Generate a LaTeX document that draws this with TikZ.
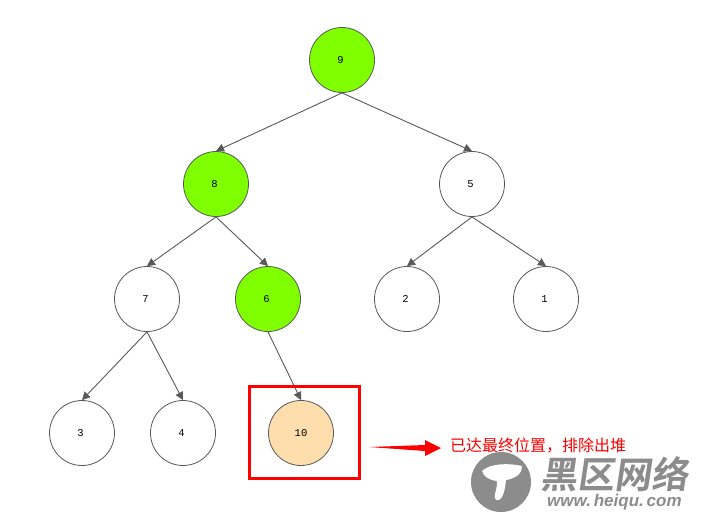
\documentclass[tikz,border=0pt]{standalone}
\usepackage{fontspec}
\setmonofont{Liberation Mono}
\newfontfamily\cjk{Noto Sans CJK SC}
\newfontfamily\cjkbold{Noto Sans CJK SC Bold}
\newfontfamily\wmfont{Liberation Sans}
\usetikzlibrary{arrows.meta}
\definecolor{heapgreen}{HTML}{7FFF00}
\definecolor{heapdone}{HTML}{FFDEAD}
\definecolor{edgegray}{HTML}{595959}
\definecolor{markgray}{HTML}{8C8C8C}
\begin{document}
\begin{tikzpicture}[
    x=1pt, y=-1pt,
    vtx/.style = {draw=edgegray, line width=0.8pt, circle, fill=white, minimum size=65pt, inner sep=0pt,
                  font=\ttfamily\fontsize{10.5}{10.5}\selectfont},
    heaped/.style = {vtx, fill=heapgreen},
    fixedvtx/.style = {vtx, fill=heapdone},
    edge/.style = {draw=edgegray, line width=0.9pt, -{Triangle[length=8pt,width=8pt]}},
  ]
  \useasboundingbox (0,0) rectangle (703,517);
  \node[heaped] (9) at (342,60) {\hspace*{-3pt}9};
  \node[heaped] (8) at (216,184) {\hspace*{-3pt}8};
  \node[vtx] (5) at (472,184) {\hspace*{-3pt}5};
  \node[vtx] (7) at (147,299) {\hspace*{-3pt}7};
  \node[heaped] (6) at (268,299) {\hspace*{-3pt}6};
  \node[vtx] (2) at (407,299) {\hspace*{-3pt}2};
  \node[vtx] (1) at (546,299) {\hspace*{-3pt}1};
  \node[vtx] (3) at (82,433) {\hspace*{-3pt}3};
  \node[vtx] (4) at (183,433) {\hspace*{-3pt}4};
  \node[fixedvtx] (10) at (301,433) {10};
  \foreach \from/\to in {9/8,9/5,8/7,8/6,5/2,5/1,7/3,7/4,6/10}
    \draw[edge] (\from.south) -- (\to.north);
  % marker round the last node
  \node[draw=red, line width=3pt, minimum width=110pt, minimum height=92pt, inner sep=0pt] (box) at (304,432) {};
  \coordinate (tail) at (369,447);
  \coordinate (tip) at (441,448);
  \fill[red] (tail) -- (425,445) -- (425,440) -- (tip) -- (425,456) -- (425,451) -- cycle;
  \node[anchor=west, text=red, inner sep=0pt, font=\cjk\fontsize{16}{16}\selectfont] (note) at (450,446) {已达最终位置，排除出堆};
  % watermark
  \fill[markgray] (501,482) circle (30);
  \fill[white] (482,471) .. controls (490,463) and (510,463) .. (522,466)
    .. controls (522,476) and (512,479) .. (506,480)
    .. controls (505,490) and (503,498) .. (499,500)
    .. controls (494,501) and (494,497) .. (496,490)
    .. controls (497,486) and (497,483) .. (497,481)
    .. controls (489,480) and (484,477) .. (482,471) -- cycle;
  \node[anchor=west, text=markgray, inner sep=0pt, xslant=0.15, transform shape, font=\cjkbold\fontsize{37}{37}\selectfont] (wmname) at (542,474) {黑区网络};
  \node[anchor=west, text=markgray, inner sep=0pt, font=\wmfont\bfseries\itshape\fontsize{17}{17}\selectfont] (wmurl) at (547,502) {www.\,heiqu.\,com};
\end{tikzpicture}
\end{document}
